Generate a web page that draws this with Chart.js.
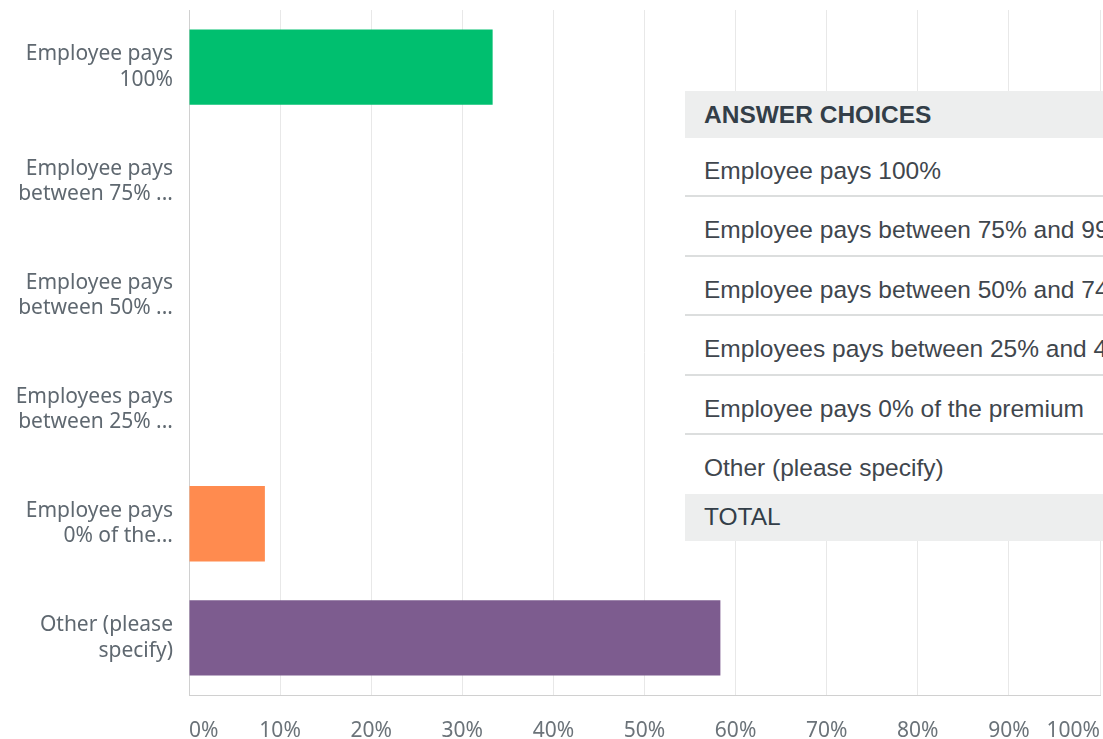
<!DOCTYPE html>
<html>
<head>
<meta charset="utf-8">
<script src="https://cdn.jsdelivr.net/npm/chart.js@4.4.0/dist/chart.umd.min.js"></script>
<style>
  html, body { margin: 0; padding: 0; background: #fff; overflow: hidden; }
  .wrap { position: relative; width: 1103px; height: 739px; }
  .answers {
    position: absolute; left: 685px; top: 91px; width: 520px;
    font-family: "Liberation Sans", Arial, sans-serif; font-size: 24.5px; color: #333e48;
    background: #fff;
  }
  .answers div { padding-left: 19px; white-space: nowrap; box-sizing: border-box; overflow: hidden; }
  .answers .head { height: 47px; line-height: 48px; background: #edeeee; font-weight: bold; }
  .answers .row { height: 59.4px; line-height: 65px; border-bottom: 2px solid #dcdede; color: #3f464d; }
  .answers .row.last { border-bottom: none; }
  .answers .total { height: 47px; line-height: 46px; background: #edeeee; }
</style>
</head>
<body>
<div class="wrap">
  <canvas id="chart" width="1103" height="739"></canvas>
  <div class="answers" id="answers"></div>
</div>
<script>
const categories = [
  ['Employee pays', '100%'],
  ['Employee pays', 'between 75% ...'],
  ['Employee pays', 'between 50% ...'],
  ['Employees pays', 'between 25% ...'],
  ['Employee pays', '0% of the...'],
  ['Other (please', 'specify)']
];
const answerChoices = [
  'Employee pays 100%',
  'Employee pays between 75% and 99%',
  'Employee pays between 50% and 74%',
  'Employees pays between 25% and 49%',
  'Employee pays 0% of the premium',
  'Other (please specify)'
];
const percents = [33.33, 0, 0, 0, 8.33, 58.33];
const barColors = ['#00bf6f', '#507cb6', '#f9be00', '#6bc8cd', '#ff8b4f', '#7d5c8f'];

// answer table drawn over the chart
const box = document.getElementById('answers');
let html = '<div class="head">ANSWER CHOICES</div>';
answerChoices.forEach((a, i) => {
  html += '<div class="row' + (i == answerChoices.length - 1 ? ' last' : '') + '">' + a + '</div>';
});
html += '<div class="total">TOTAL</div>';
box.innerHTML = html;

const tickFont = { family: '"Noto Sans", sans-serif', size: 21 };

new Chart(document.getElementById('chart').getContext('2d'), {
  type: 'bar',
  data: {
    labels: categories,
    datasets: [{
      data: percents,
      backgroundColor: barColors,
      borderWidth: 0,
      barPercentage: 0.66,
      categoryPercentage: 1
    }]
  },
  options: {
    indexAxis: 'y',
    responsive: false,
    animation: false,
    layout: { padding: { top: 10, right: 3, left: 0, bottom: 0 } },
    plugins: { legend: { display: false }, tooltip: { enabled: false } },
    scales: {
      x: {
        min: 0,
        max: 100,
        ticks: {
          stepSize: 10,
          callback: v => v + '%',
          color: '#6b7379',
          font: tickFont,
          padding: 23,
          align: 'inner',
          maxRotation: 0
        },
        grid: { color: '#e8e8e8', lineWidth: 1, drawTicks: false },
        border: { color: '#d0d0d0', width: 1 },
        afterFit: s => { s.height = 44; s.paddingLeft = 0; s.paddingRight = 0; }
      },
      y: {
        ticks: { color: '#5f6870', font: tickFont, padding: 16, crossAlign: 'near' },
        grid: { display: false, drawTicks: false },
        border: { color: '#d0d0d0', width: 1 },
        afterFit: s => { s.width = 189; s.paddingTop = 0; s.paddingBottom = 0; }
      }
    }
  }
});
</script>
</body>
</html>
